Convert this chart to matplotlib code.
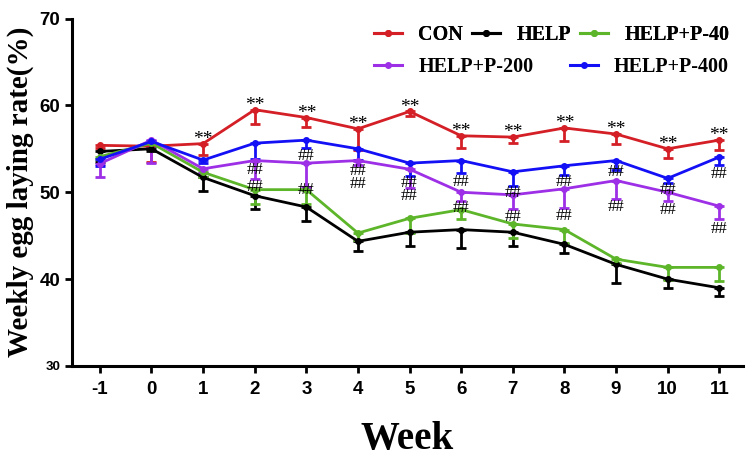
import matplotlib
matplotlib.use("Agg")
import matplotlib.pyplot as plt
from matplotlib.lines import Line2D

weeks = [-1, 0, 1, 2, 3, 4, 5, 6, 7, 8, 9, 10, 11]
series_names = ["CON", "HELP", "HELP+P-40", "HELP+P-200", "HELP+P-400"]

con = [55.4, 55.3, 55.6, 59.5, 58.6, 57.3, 59.3, 56.5, 56.35, 57.4, 56.7, 55.0, 56.0]
help_ = [54.7, 55.0, 51.7, 49.6, 48.3, 44.35, 45.4, 45.7, 45.4, 44.0, 41.7, 40.0, 39.0]
p40 = [54.1, 55.65, 52.3, 50.3, 50.3, 45.3, 47.0, 48.0, 46.35, 45.7, 42.3, 41.35, 41.35]
p200 = [53.3, 56.0, 52.7, 53.65, 53.35, 53.65, 52.65, 50.0, 49.7, 50.4, 51.35, 50.0, 48.4]
p400 = [53.8, 55.85, 53.7, 55.65, 56.0, 55.0, 53.35, 53.65, 52.35, 53.05, 53.65, 51.6, 54.05]

con_err = [0.3, 1.8, 1.3, 1.65, 1.07, 2.4, 0.57, 1.38, 0.65, 1.53, 1.15, 1.0, 1.15]
help_err = [1.2, 0.3, 1.5, 1.5, 1.6, 1.15, 1.6, 2.1, 1.6, 0.96, 2.1, 1.03, 0.96]
p40_err = [0.3, 0.3, 0.5, 1.6, 1.6, 0.8, 1.7, 1.07, 1.6, 1.5, 0.5, 1.4, 1.6]
p200_err = [1.5, 2.6, 0.5, 2.1, 2.7, 0.57, 2.2, 1.03, 1.6, 2.2, 2.1, 0.96, 1.53]
p400_err = [0.8, 0.5, 0.3, 1.8, 0.96, 1.3, 1.5, 1.46, 1.65, 1.03, 1.07, 0.5, 0.96]

star_weeks = [1, 2, 3, 4, 5, 6, 7, 8, 9, 10, 11]
hash_weeks = [2, 2, 3, 3, 4, 4, 5, 5, 6, 6, 7, 7, 8, 8, 9, 9, 10, 10, 11, 11]
hash_y = [52.6, 50.6, 54.2, 50.3, 52.4, 50.9, 51.1, 49.6, 51.2, 48.2,
          49.9, 47.15, 51.2, 47.3, 52.3, 48.25, 50.3, 48.0, 52.1, 45.8]

colors = ["#d41f26", "#000000", "#5db52a", "#9d2fe6", "#1410f5"]
values = [con, help_, p40, p200, p400]
errs = [con_err, help_err, p40_err, p200_err, p400_err]

fig = plt.figure(figsize=(7.47, 4.58), dpi=100)
ax = fig.add_axes([72 / 747, 1 - 366 / 458, (743 - 72) / 747, (366 - 18.5) / 458])

handles = []
for name, vals, er, c in zip(series_names, values, errs, colors):
    ax.errorbar(weeks, vals, yerr=[er, [0] * len(er)], color=c, lw=2,
                marker="o", ms=4, capsize=3.5, capthick=2, elinewidth=2, zorder=3)
    handles.append(Line2D([0], [0], color=c, lw=2.2, marker="o", ms=4))

for w in star_weeks:
    i = weeks.index(w)
    ax.annotate("**", (w, con[i]), xytext=(0, -3), textcoords="offset points",
                ha="center", va="bottom", fontsize=14, family="Liberation Serif", zorder=5)

for w, y in zip(hash_weeks, hash_y):
    ax.text(w, y, "##", ha="center", va="center", fontsize=12,
            family="Liberation Serif", zorder=5)

ax.set_xlim(-1.54, 11.46)
ax.set_ylim(30, 70)
ax.set_xticks(weeks)
ax.set_xticklabels([str(w) for w in weeks])
ax.set_yticks([30, 40, 50, 60, 70])
for s in ["top", "right"]:
    ax.spines[s].set_visible(False)
for s in ["left", "bottom"]:
    ax.spines[s].set_linewidth(2.2)
ax.tick_params(axis="both", width=2, length=5, direction="out")
for lab in ax.get_xticklabels() + ax.get_yticklabels():
    lab.set_fontfamily("Liberation Sans")
    lab.set_fontweight("bold")
    lab.set_fontsize(13.5)
ax.get_yticklabels()[0].set_fontsize(9.5)
ax.tick_params(axis="x", pad=6)

ax.set_xlabel("Week", fontsize=28, fontweight="bold", family="Liberation Serif", labelpad=16)
ax.set_ylabel("Weekly egg laying rate(%)", fontsize=21, fontweight="bold",
              family="Liberation Serif", labelpad=4)

leg_font = {"family": "Liberation Serif", "weight": "bold", "size": 14.5}
leg1 = fig.legend(handles[:3], series_names[:3], loc="upper left",
                  bbox_to_anchor=(374 / 747, 1 - 25 / 458), ncol=3, frameon=False,
                  prop=leg_font, handlelength=1.4, handletextpad=0.8, columnspacing=0.45,
                  borderpad=0, borderaxespad=0)
leg2 = fig.legend(handles[3:], series_names[3:], loc="upper left",
                  bbox_to_anchor=(374 / 747, 1 - 57 / 458), ncol=2, frameon=False,
                  prop=leg_font, handlelength=1.4, handletextpad=0.8, columnspacing=1.8,
                  borderpad=0, borderaxespad=0)
fig.add_artist(leg1)

fig.savefig("out.png", dpi=100)
